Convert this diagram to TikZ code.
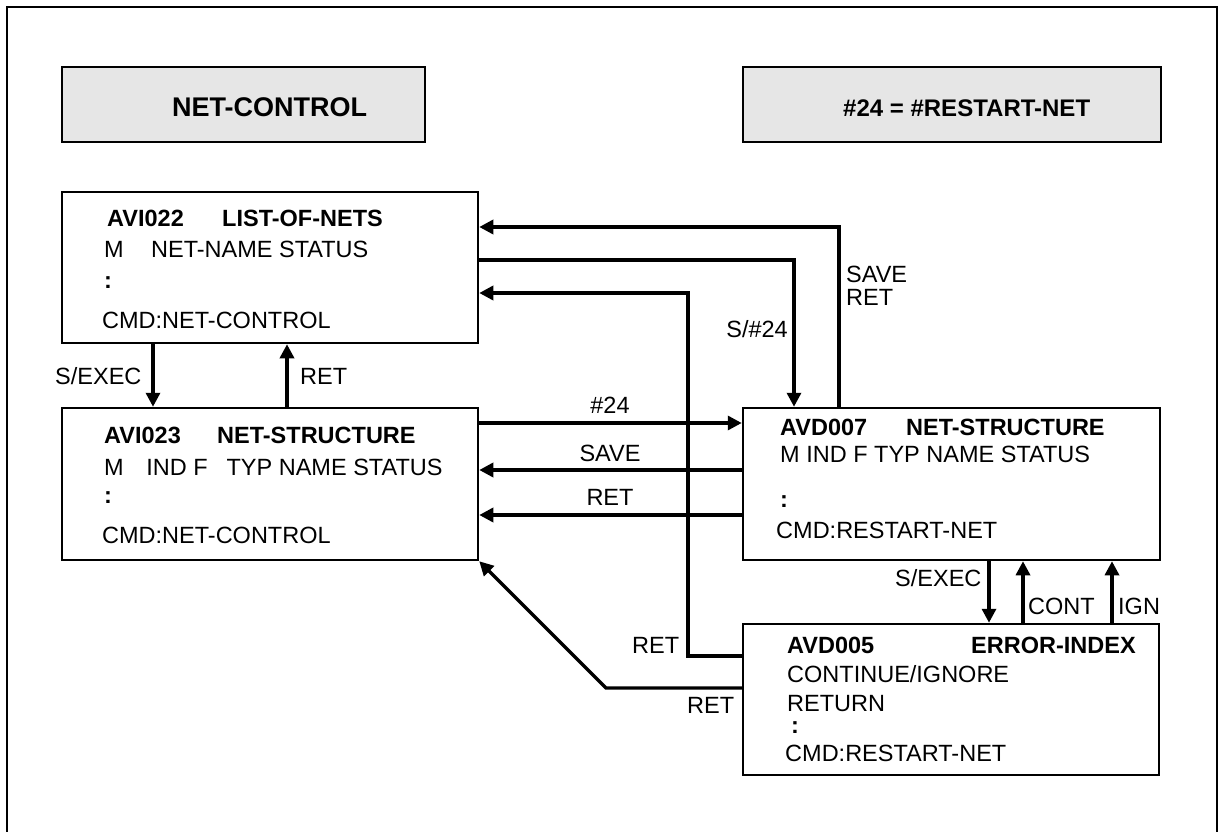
\documentclass[tikz,border=0pt]{standalone}
\usepackage{fontspec}
\setmainfont{Liberation Sans}
\usetikzlibrary{arrows.meta,calc}
\definecolor{hdrgray}{RGB}{230,230,230}
\tikzset{
 box/.style={draw, line width=2.5pt, fill=white, inner sep=0pt},
 hdr/.style={draw, line width=2.8pt, fill=hdrgray, inner sep=0pt},
 txt/.style={anchor=base west, inner sep=0pt, font=\fontsize{23.5}{28}\selectfont},
 btxt/.style={anchor=base west, inner sep=0pt, font=\fontsize{23.5}{28}\selectfont\bfseries},
 htxt/.style={anchor=base west, inner sep=0pt, font=\fontsize{27}{32}\selectfont\bfseries},
 ctxt/.style={anchor=base, inner sep=0pt, font=\fontsize{23.5}{28}\selectfont},
 etxt/.style={anchor=base east, inner sep=0pt, font=\fontsize{23.5}{28}\selectfont},
 conn/.style={line width=3.3pt, -{Triangle[length=14pt,width=14pt]}},
 frame/.style={line width=1.3pt}
}
\begin{document}
\begin{tikzpicture}[x=1pt,y=-1pt]
\useasboundingbox (0,0) rectangle (1221,832);
\draw[frame] (7,832) -- (7,7) -- (1217,7) -- (1217,832);
% headers
\node[hdr, minimum width=363pt, minimum height=75pt] (hL) at (243.5,104.5) {};
\node[hdr, minimum width=418pt, minimum height=75pt] (hR) at (952,104.5) {};
\node[htxt] (hLt) at (172,117) {NET-CONTROL};
\node[htxt, font=\fontsize{24}{30}\selectfont\bfseries] (hRt) at (843,117) {\#24 = \#RESTART-NET};
% boxes
\node[box, minimum width=416pt, minimum height=151pt] (b22) at (270,267.5) {};
\node[box, minimum width=416pt, minimum height=152pt] (b23) at (270,484) {};
\node[box, minimum width=417pt, minimum height=152pt] (b07) at (951.5,484) {};
\node[box, minimum width=416pt, minimum height=151pt] (b05) at (951,699.5) {};
% b22 text
\node[btxt] (t22a) at (107,226) {AVI022};
\node[btxt] (t22b) at (222,226) {LIST-OF-NETS};
\node[txt] (t22c) at (104,257) {M};
\node[txt] (t22d) at (151,257) {NET-NAME STATUS};
\node[btxt] (t22e) at (104,288) {:};
\node[txt] (t22f) at (102,328) {CMD:NET-CONTROL};
% b23 text
\node[btxt] (t23a) at (104,443) {AVI023};
\node[btxt] (t23b) at (217,443) {NET-STRUCTURE};
\node[txt] (t23c) at (104,475) {M\hspace{22.5pt}IND F\hspace{19pt}TYP NAME STATUS};
\node[btxt] (t23e) at (104,503) {:};
\node[txt] (t23f) at (102,543) {CMD:NET-CONTROL};
% b07 text
\node[btxt] (t07a) at (780,435) {AVD007};
\node[btxt] (t07b) at (906,435) {NET-STRUCTURE};
\node[txt] (t07c) at (780,462) {M IND F TYP NAME STATUS};
\node[btxt] (t07e) at (780,507) {:};
\node[txt] (t07f) at (776,538) {CMD:RESTART-NET};
% b05 text
\node[btxt] (t05a) at (787,653) {AVD005};
\node[btxt] (t05b) at (971,653) {ERROR-INDEX};
\node[txt] (t05c) at (787,682) {CONTINUE/IGNORE};
\node[txt] (t05d) at (787,711) {RETURN};
\node[btxt] (t05e) at (791,733) {:};
\node[txt] (t05f) at (785,761) {CMD:RESTART-NET};
% bend coordinates
\coordinate (c1) at (839,227);
\coordinate (c2) at (794,260);
\coordinate (c3) at (688,293);
\coordinate (c3b) at (688,656);
\coordinate (c4) at (153,0);
\coordinate (c5) at (287,0);
\coordinate (c6) at (0,423);
\coordinate (c7) at (0,470);
\coordinate (c8) at (0,515);
\coordinate (c9) at (606,688);
\coordinate (c10) at (989,0);
\coordinate (c11) at (1023,0);
\coordinate (c12) at (1112,0);
% connectors
\draw[conn] (b07.north -| c1) |- (b22.east |- c1);
\draw[conn] (b22.east |- c2) -| (b07.north -| c2);
\draw[conn] (b05.west |- c3b) -| (c3) -- (b22.east |- c3);
\draw[conn] (b22.south -| c4) -- (b23.north -| c4);
\draw[conn] (b23.north -| c5) -- (b22.south -| c5);
\draw[conn] (b23.east |- c6) -- (b07.west |- c6);
\draw[conn] (b07.west |- c7) -- (b23.east |- c7);
\draw[conn] (b07.west |- c8) -- (b23.east |- c8);
\draw[conn] (b05.west |- c9) -- (c9) -- (b23.south east);
\draw[conn] (b07.south -| c10) -- (b05.north -| c10);
\draw[conn] (b05.north -| c11) -- (b07.south -| c11);
\draw[conn] (b05.north -| c12) -- (b07.south -| c12);
% labels
\node[txt] (l1a) at (846,282) {SAVE};
\node[txt] (l1b) at (846,305) {RET};
\node[etxt] (l2) at (788,337) {S/\#24};
\node[ctxt] (l6) at (610,413) {\#24};
\node[ctxt] (l7) at (610,461) {SAVE};
\node[ctxt] (l8) at (610,505) {RET};
\node[txt] (l4) at (55,384) {S/EXEC};
\node[txt] (l5) at (300,384) {RET};
\node[txt] (l3) at (632,653) {RET};
\node[txt] (l9) at (687,713) {RET};
\node[txt] (l10) at (895,586) {S/EXEC};
\node[txt] (l11) at (1028,614) {CONT};
\node[txt] (l12) at (1118,614) {IGN};
\end{tikzpicture}
\end{document}
